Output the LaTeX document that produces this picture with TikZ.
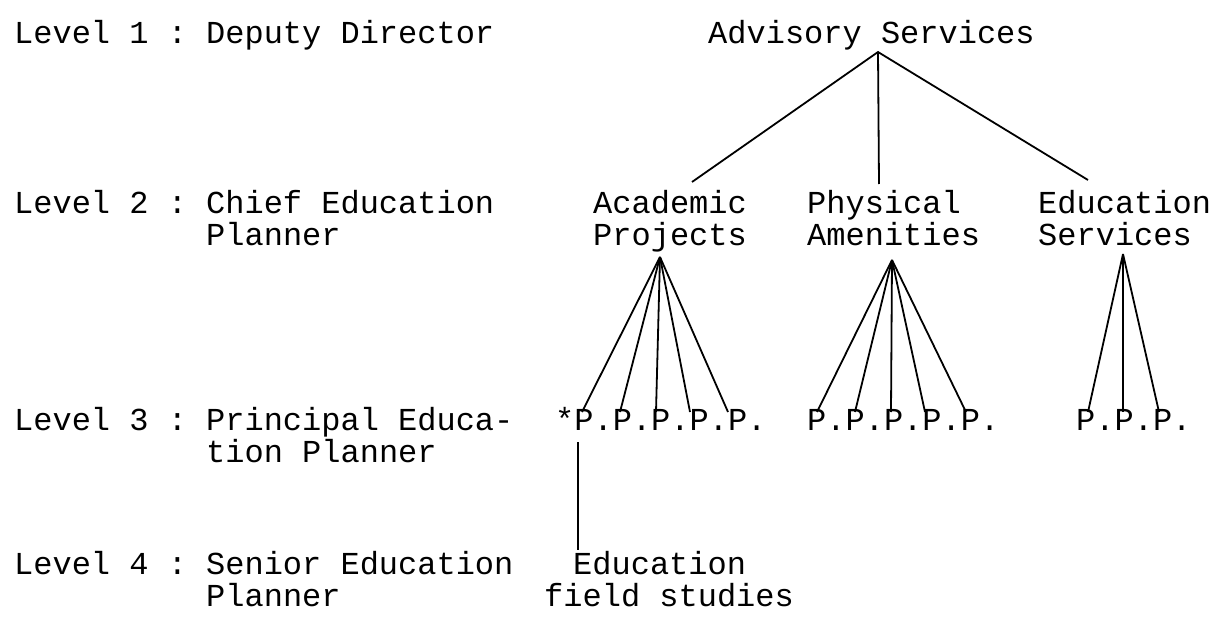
\documentclass[tikz,border=0pt]{standalone}
\usepackage{fontspec}
\setmonofont{Liberation Mono}
\begin{document}
\begin{tikzpicture}[x=1pt,y=-1pt,
  tw/.style={font=\ttfamily\fontsize{32}{32}\selectfont, inner sep=0pt, anchor=base west},
  link/.style={line width=1.8pt}]
\useasboundingbox[fill=white] (0,0) rectangle (1211,618);
% left labels
\node[tw] (l1)  at (14,44)  {Level 1 : Deputy Director};
\node[tw] (l2)  at (14,213) {Level 2 : Chief Education};
\node[tw] (l2b) at (206,245) {Planner};
\node[tw] (l3)  at (14,430) {Level 3 : Principal Educa-};
\node[tw] (l3b) at (206,462) {tion Planner};
\node[tw] (l4)  at (14,574) {Level 4 : Senior Education};
\node[tw] (l4b) at (206,606) {Planner};
% tree texts
\node[tw] (adv) at (708,44) {Advisory Services};
\node[tw] (aca) at (593,213) {Academic};
\node[tw] (acb) at (593,245) {Projects};
\node[tw] (pha) at (807,213) {Physical};
\node[tw] (phb) at (807,245) {Amenities};
\node[tw] (eda) at (1038,213) {Education};
\node[tw] (edb) at (1038,245) {Services};
\node[tw] (pa) at (555,430) {*P.P.P.P.P.};
\node[tw] (pb) at (807,430) {P.P.P.P.P.};
\node[tw] (pc) at (1076,430) {P.P.P.};
\node[tw] (efa) at (573,574) {Education};
\node[tw] (efb) at (544,606) {field studies};
% connector points
\coordinate (t0) at (878,52);
\coordinate (t1) at (692,182);
\coordinate (t2) at (879,184);
\coordinate (t3) at (1088,180);
\coordinate (aA) at (660,257);
\coordinate (aB) at (892,260);
\coordinate (aC) at (1123,254);
\foreach \x [count=\i] in {582,620,656,690,728} \coordinate (eA\i) at (\x,412);
\foreach \x [count=\i] in {817,855,891,925,966} \coordinate (eB\i) at (\x,412);
\foreach \x [count=\i] in {1088,1123,1159} \coordinate (eC\i) at (\x,412);
\coordinate (s1) at (578,442);
\coordinate (s2) at (578,550);
% connectors
\draw[link] (t1) -- (t0) -- (t3);
\draw[link] (t0) -- (t2);
\foreach \i in {1,...,5} \draw[link] (aA) -- (eA\i);
\foreach \i in {1,...,5} \draw[link] (aB) -- (eB\i);
\foreach \i in {1,...,3} \draw[link] (aC) -- (eC\i);
\draw[link] (s1) -- (s2);
\end{tikzpicture}
\end{document}
